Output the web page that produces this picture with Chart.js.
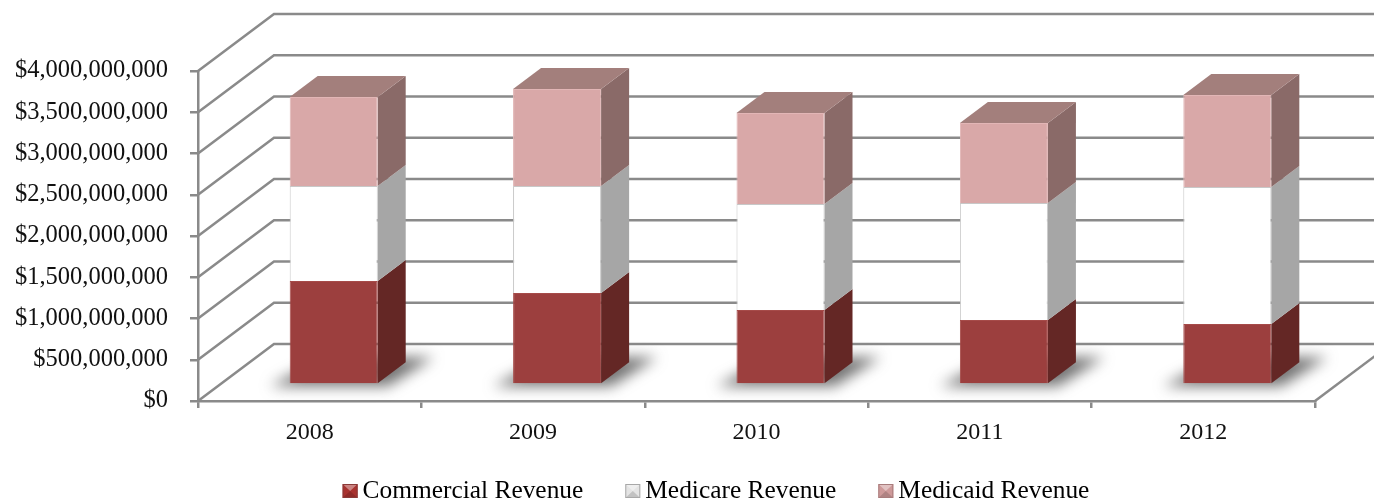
<!DOCTYPE html>
<html><head><meta charset="utf-8">
<style>html,body{margin:0;padding:0;background:#fff}canvas{display:block}</style>
<script src="https://cdn.jsdelivr.net/npm/chart.js@4"></script>
</head><body><canvas id="c" width="1374" height="500"></canvas>
<script>
const categories = ['2008','2009','2010','2011','2012'];
const commercial = [1255000000,1109000000,903000000,782000000,733000000];
const medicare   = [1151000000,1297000000,1285000000,1418000000,1661000000];
const medicaid   = [1079000000,1176000000,1103000000,970000000,1115000000];
const seriesNames = ['Commercial Revenue','Medicare Revenue','Medicaid Revenue'];
const yMax = 4000000000, yStep = 500000000;

const FRONT = ['#9C3F3E','#FFFFFF','#D9A8A8'];
const EDGE  = ['#A64B49','#C8C8C8','#E2B6B6'];
const SIDE  = ['#642725','#A6A6A6','#8A6A68'];
const TOP   = ['#7E3230','#CCCCCC','#A37F7C'];
const SWATCH = ['#A8322F','#E4E4E4','#CE9A9A'];
const SWATCH_EDGE = ['#8A3A38','#A8A8A8','#A87C7C'];
const GRID  = '#8A8A8A';
const WALL = {dx:76, dy:-57};
const BAR = {ox:24, oy:-16.5, dx:28, dy:-21};
const FONT = '"Liberation Serif", serif';

function poly(ctx, pts, fill){
  ctx.beginPath();
  pts.forEach((p,i)=> i?ctx.lineTo(p[0],p[1]):ctx.moveTo(p[0],p[1]));
  ctx.closePath();
  ctx.fillStyle = fill; ctx.fill();
}

const threeD = {
  id:'threeD',
  beforeLayout(chart){
    const lg = chart.legend;
    if(!lg._fitWrapped){
      const f = lg.fit;
      lg.fit = function(){ f.call(this); this.height = 30; };
      lg._fitWrapped = true;
    }
  },
  afterLayout(chart){
    const l = chart.legend;
    l.left += 58.5; l.right += 58.5;
    l.top = 437; l.bottom = 500;
  },
  beforeDatasetsDraw(chart){
    const ctx = chart.ctx, a = chart.chartArea, y = chart.scales.y;
    ctx.save();
    ctx.strokeStyle = GRID; ctx.lineWidth = 2.5; ctx.lineCap='round';
    y.ticks.forEach(t=>{
      const py = y.getPixelForValue(t.value);
      ctx.beginPath();
      ctx.moveTo(a.left,py);
      ctx.lineTo(a.left+WALL.dx,py+WALL.dy);
      ctx.lineTo(a.right+WALL.dx,py+WALL.dy);
      ctx.stroke();
    });
    ctx.beginPath();
    ctx.moveTo(a.right,a.bottom);
    ctx.lineTo(a.right+WALL.dx,a.bottom+WALL.dy);
    ctx.stroke();
    ctx.restore();

    ctx.save();
    ctx.translate(BAR.ox,BAR.oy);
    const metas = [0,1,2].map(i=>chart.getDatasetMeta(i));
    metas[0].data.forEach(el=>{
      const l=el.x-el.width/2, r=el.x+el.width/2, b=el.base;
      ctx.save();
      ctx.filter='blur(7px)';
      poly(ctx,[[l-20,b+3],[r+10,b+3],[r+56,b-26],[l+36,b-26]],'rgba(80,80,80,0.8)');
      ctx.restore();
    });
    metas.forEach((m,d)=>{
      m.data.forEach(el=>{
        const r=el.x+el.width/2, l=el.x-el.width/2;
        poly(ctx,[[r,el.y],[r+BAR.dx,el.y+BAR.dy],[r+BAR.dx,el.base+BAR.dy],[r,el.base]],SIDE[d]);
        if(d===2) poly(ctx,[[l,el.y],[l+BAR.dx,el.y+BAR.dy],[r+BAR.dx,el.y+BAR.dy],[r,el.y]],TOP[d]);
      });
    });
  },
  afterDatasetsDraw(chart){ chart.ctx.restore(); },
  afterDraw(chart){
    const ctx = chart.ctx;
    (chart.legend.legendHitBoxes||[]).forEach((h,i)=>{
      const x=h.left, y=484, s=15, t=14;
      ctx.save();
      ctx.fillStyle=SWATCH[i]; ctx.fillRect(x,y,s,t);
      ctx.globalAlpha=0.4;
      poly(ctx,[[x,y],[x+s,y],[x+s/2,y+t/2]],'#ffffff');
      ctx.globalAlpha=0.15;
      poly(ctx,[[x,y+t],[x+s,y+t],[x+s/2,y+t/2]],'#000000');
      ctx.globalAlpha=1;
      ctx.strokeStyle=SWATCH_EDGE[i]; ctx.lineWidth=1;
      ctx.strokeRect(x+.5,y+.5,s-1,t-1);
      ctx.restore();
    });
  }
};

new Chart(document.getElementById('c').getContext('2d'),{
  type:'bar',
  plugins:[threeD],
  data:{
    labels:categories,
    datasets:[commercial,medicare,medicaid].map((v,i)=>({
      label:seriesNames[i],
      data:v,
      backgroundColor:FRONT[i],
      borderColor:EDGE[i],
      borderWidth:1,
      clip:false,
      categoryPercentage:1,
      barPercentage:0.394
    }))
  },
  options:{
    responsive:false,
    animation:false,
    layout:{padding:{top:71,right:59,bottom:0,left:0}},
    plugins:{
      tooltip:{enabled:false},
      title:{display:false},
      legend:{
        position:'bottom',
        labels:{
          color:'#1a1a1a',
          font:{family:FONT,size:25.4},
          boxWidth:7.3,boxHeight:14,padding:42,
          generateLabels(chart){
            return seriesNames.map((n,i)=>({
              text:n,fillStyle:'rgba(0,0,0,0)',strokeStyle:'rgba(0,0,0,0)',lineWidth:0,datasetIndex:i
            }));
          }
        }
      }
    },
    scales:{
      x:{
        stacked:true,
        afterFit(s){s.height=69;},
        grid:{display:true,offset:true,drawOnChartArea:false,drawTicks:true,tickLength:7,color:GRID,lineWidth:2.5},
        border:{display:true,color:GRID,width:2.5},
        ticks:{color:'#111',font:{family:FONT,size:24},padding:10,maxRotation:0}
      },
      y:{
        stacked:true,min:0,max:yMax,
        afterFit(s){s.width=198;},
        grid:{drawOnChartArea:false,drawTicks:true,tickLength:8,color:GRID,lineWidth:2.5},
        border:{display:true,color:GRID,width:2.5},
        ticks:{stepSize:yStep,color:'#111',font:{family:FONT,size:24.5},padding:22,
          callback:v=>'$'+Number(v).toLocaleString('en-US')}
      }
    }
  }
});
</script></body></html>
